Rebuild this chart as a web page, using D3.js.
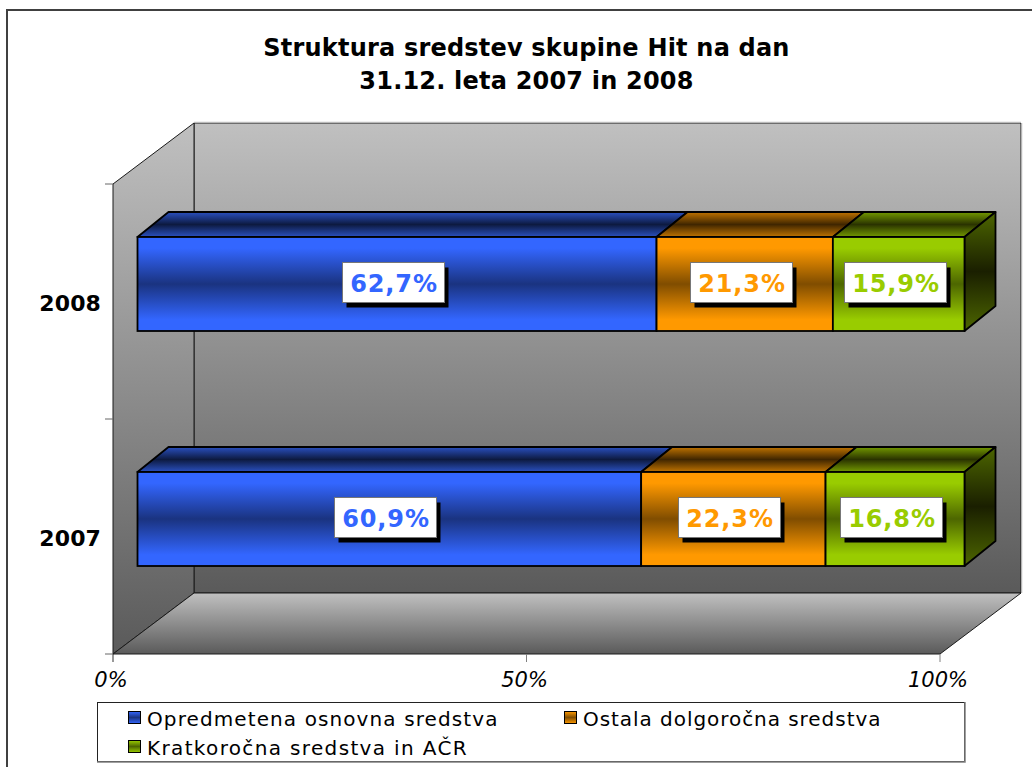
<!DOCTYPE html>
<html><head><meta charset="utf-8">
<script src="https://cdn.jsdelivr.net/npm/d3@7"></script>
<style>html,body{margin:0;padding:0;background:#fff}svg{display:block}text{font-family:"DejaVu Sans",Verdana,sans-serif}</style>
</head><body><svg id="c" width="1032" height="767"></svg>
<script>
const titleLines = ["Struktura sredstev skupine Hit na dan", "31.12. leta 2007 in 2008"];
const years = ["2008", "2007"];
const seriesNames = ["Opredmetena osnovna sredstva", "Ostala dolgoročna sredstva", "Kratkoročna sredstva in AČR"];
const values2008 = [62.7, 21.3, 15.9];
const values2007 = [60.9, 22.3, 16.8];
const labels2008 = ["62,7%", "21,3%", "15,9%"];
const labels2007 = ["60,9%", "22,3%", "16,8%"];
const xTicks = [0, 50, 100];
const rowValues = [values2008, values2007];
const rowLabels = [labels2008, labels2007];
const palette = [
  {hi:"#3366ff", mid:"#1a3380", thi:"#2a50c0", tmid:"#0d1a40"},
  {hi:"#ff9900", mid:"#804d00", thi:"#c07300", tmid:"#402600"},
  {hi:"#99cc00", mid:"#4d6600", thi:"#739900", tmid:"#2a3300"}
];

const svg = d3.select("#c");
const defs = svg.append("defs");
function vgrad(id, stops){
  const g = defs.append("linearGradient").attr("id",id).attr("x1",0).attr("y1",0).attr("x2",0).attr("y2",1);
  stops.forEach(s=>g.append("stop").attr("offset",s[0]).attr("stop-color",s[1]));
}
vgrad("wall",[[0,"#c0c0c0"],[1,"#5a5a5a"]]);
vgrad("floor",[[0,"#c0c0c0"],[1,"#5a5a5a"]]);
palette.forEach((p,i)=>{
  vgrad("f"+i,[[0,p.hi],[0.12,p.hi],[0.5,p.mid],[0.88,p.hi],[1,p.hi]]);
  vgrad("t"+i,[[0,p.thi],[0.5,p.tmid],[1,p.thi]]);
});
vgrad("side",[[0,"#4d6600"],[0.5,"#1a1f00"],[1,"#4d6600"]]);

// frame
svg.append("path").attr("d","M7,800V10H1040").attr("fill","none").attr("stroke","#404040").attr("stroke-width",2);

// title
svg.append("g").selectAll("text").data(titleLines).join("text")
  .attr("x",526.5).attr("y",(d,i)=>56+i*33).attr("text-anchor","middle")
  .attr("font-size",24).attr("font-weight","bold").attr("letter-spacing",0.2).attr("fill","#000").text(d=>d);

// scales
const x = d3.scaleLinear().domain([0,100]).range([113,940]);
const y = d3.scaleLinear().domain([0,2]).range([654,184]);
const depth = {dx:81, dy:-61};
const barOff = {dx:24.5};
const barDepth = {dx:31, dy:-25};
const band = d3.scaleBand().domain(years).range([184,654]);
const barH = 94;

const P = pts=>pts.map(p=>p.join(",")).join(" ");
const L = "#1a1a1a";
// back wall
svg.append("polygon").attr("points",P([[x(0)+depth.dx,y(2)+depth.dy],[x(100)+depth.dx,y(2)+depth.dy],[x(100)+depth.dx,y(0)+depth.dy],[x(0)+depth.dx,y(0)+depth.dy]]))
  .attr("fill","url(#wall)").attr("stroke",L).attr("stroke-width",1);
// left wall
svg.append("polygon").attr("points",P([[x(0),y(2)],[x(0)+depth.dx,y(2)+depth.dy],[x(0)+depth.dx,y(0)+depth.dy],[x(0),y(0)]]))
  .attr("fill","url(#wall)").attr("stroke",L).attr("stroke-width",1);
// floor
svg.append("polygon").attr("points",P([[x(0),y(0)],[x(0)+depth.dx,y(0)+depth.dy],[x(100)+depth.dx,y(0)+depth.dy],[x(100),y(0)]]))
  .attr("fill","url(#floor)").attr("stroke",L).attr("stroke-width",1);
// light edges of the back wall
svg.append("line").attr("x1",x(100)+depth.dx+1).attr("x2",x(100)+depth.dx+1).attr("y1",y(2)+depth.dy).attr("y2",y(0)+depth.dy).attr("stroke","#ddd");
svg.append("line").attr("x1",x(0)+depth.dx).attr("x2",x(100)+depth.dx).attr("y1",y(2)+depth.dy-0.8).attr("y2",y(2)+depth.dy-0.8).attr("stroke","#ccc");

// axis ticks
svg.append("g").selectAll("line").data(xTicks).join("line")
  .attr("x1",d=>x(d)).attr("x2",d=>x(d)).attr("y1",654).attr("y2",662).attr("stroke",(d,i)=>i?"#808080":"#333");
svg.append("g").selectAll("line").data([0,1,2]).join("line")
  .attr("x1",105).attr("x2",113).attr("y1",d=>y(d)).attr("y2",d=>y(d)).attr("stroke","#666");
svg.append("g").selectAll("text").data(xTicks).join("text")
  .attr("x",d=>x(d)-2).attr("y",687).attr("text-anchor","middle")
  .attr("font-size",21).attr("font-style","italic").attr("fill","#000").text(d=>d+"%");

// category labels
svg.append("g").selectAll("text").data(years).join("text")
  .attr("x",101).attr("y",d=>band(d)+band.bandwidth()/2+9)
  .attr("text-anchor","end").attr("font-size",22).attr("font-weight","bold").attr("letter-spacing",0.1).attr("fill","#000").text(d=>d);

// bars
const bx = v => x(v)+barOff.dx;
const barTop = {"2008":237,"2007":472};
years.forEach((yr,r)=>{
  const vals = rowValues[r];
  const tot = d3.sum(vals);
  const top = barTop[yr];
  const g = svg.append("g");
  let acc = 0;
  const segs = vals.map((v,i)=>{const s={i,v,a:acc/tot*100,b:(acc+v)/tot*100,label:rowLabels[r][i]};acc+=v;return s;});
  // top faces
  g.selectAll(".top").data(segs).join("polygon").attr("points",s=>P([
    [bx(s.a),top],[bx(s.a)+barDepth.dx,top+barDepth.dy],[bx(s.b)+barDepth.dx,top+barDepth.dy],[bx(s.b),top]]))
    .attr("fill",s=>`url(#t${s.i})`).attr("stroke","#000").attr("stroke-width",1.8).attr("stroke-linejoin","round");
  // side
  g.append("polygon").attr("points",P([[bx(100),top],[bx(100)+barDepth.dx,top+barDepth.dy],[bx(100)+barDepth.dx,top+barDepth.dy+barH],[bx(100),top+barH]]))
    .attr("fill","url(#side)").attr("stroke","#000").attr("stroke-width",1.8).attr("stroke-linejoin","round");
  // front
  g.selectAll(".front").data(segs).join("rect").attr("x",s=>bx(s.a)).attr("y",top).attr("width",s=>bx(s.b)-bx(s.a)).attr("height",barH)
    .attr("fill",s=>`url(#f${s.i})`).attr("stroke","#000").attr("stroke-width",1.8);
  // labels
  const lw=102, lh=40;
  const lb = g.selectAll(".lab").data(segs).join("g").attr("transform",s=>`translate(${Math.round((bx(s.a)+bx(s.b))/2-4)+0.5},${top+45.5})`);
  lb.append("rect").attr("x",-lw/2+4).attr("y",-lh/2+5).attr("width",lw).attr("height",lh).attr("fill","#000");
  lb.append("rect").attr("x",-lw/2).attr("y",-lh/2).attr("width",lw).attr("height",lh).attr("fill","#fff").attr("stroke","#777").attr("stroke-width",1);
  lb.append("text").attr("x",0.5).attr("y",9).attr("text-anchor","middle").attr("font-size",24).attr("font-weight","bold").attr("letter-spacing",0.9)
    .attr("fill",s=>palette[s.i].hi).text(s=>s.label);
});

// legend
svg.append("rect").attr("x",97.5).attr("y",702.5).attr("width",867).attr("height",59).attr("fill","#fff").attr("stroke","#222").attr("stroke-width",1);
svg.append("path").attr("d","M965,702V762H97").attr("fill","none").attr("stroke","#808080").attr("stroke-width",1.5);
const legPos = [[128,726],[564,726],[128,755]];
const legSpacing = [1.1, 0.95, 1.35];
vgrad("lg0",[[0,"#3366ff"],[0.5,"#1a3380"],[1,"#3366ff"]]);
vgrad("lg1",[[0,"#ff9900"],[0.5,"#804d00"],[1,"#ff9900"]]);
vgrad("lg2",[[0,"#99cc00"],[0.5,"#4d6600"],[1,"#99cc00"]]);
const lg = svg.append("g").selectAll("g").data(seriesNames).join("g");
lg.append("rect").attr("x",(d,i)=>legPos[i][0]+0.5).attr("y",(d,i)=>legPos[i][1]-14.5).attr("width",12).attr("height",12)
  .attr("fill",(d,i)=>`url(#lg${i})`).attr("stroke","#000").attr("stroke-width",1);
lg.append("text").attr("x",(d,i)=>legPos[i][0]+19).attr("y",(d,i)=>legPos[i][1]).attr("font-size",20).attr("letter-spacing",(d,i)=>legSpacing[i]).attr("fill","#000").text(d=>d);
</script></body></html>
